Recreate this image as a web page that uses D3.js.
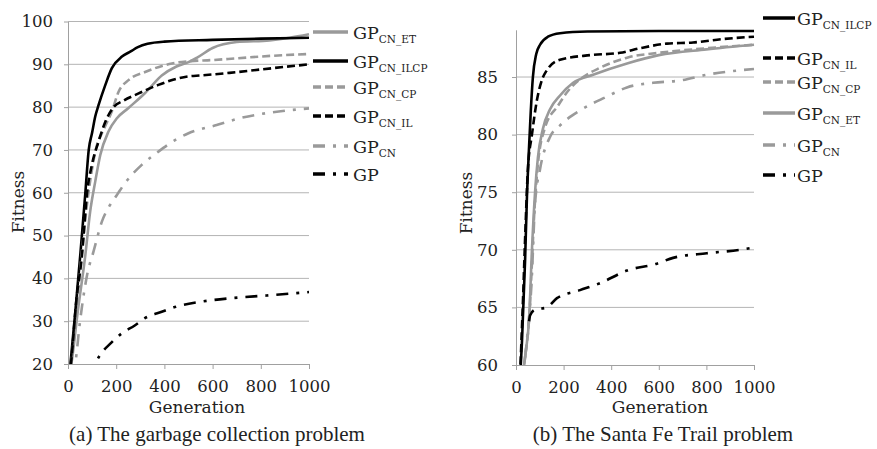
<!DOCTYPE html>
<html>
<head>
<meta charset="utf-8">
<script src="https://cdn.jsdelivr.net/npm/d3@7"></script>
<style>
  body { margin: 0; background: #fff; }
  svg { display: block; }
  text { font-family: "DejaVu Serif", serif; fill: #222; }
</style>
</head>
<body>
<svg id="chart" width="877" height="449"></svg>
<script>
// ---- (a) garbage collection problem: [generation, fitness] ----
const gcEt   = [[5,17],[14,20],[40,32],[72,45.5],[92,55.6],[113,62.6],[134,68.8],[168,74.3],[203,77.4],[251,79.8],[320,83.3],[389,87.4],[450,89.5],[500,90.5],[534,91.5],[600,93.8],[700,95.2],[836,95.6],[920,96.2],[1000,97]];
const gcIlcp = [[5,17],[10,20],[30,32],[51,45.5],[72,60],[86,70],[100,74],[113,77.8],[127,80.5],[155,85.2],[182,89.1],[224,91.8],[260,93],[290,94],[330,94.8],[400,95.3],[600,95.7],[800,96],[1000,96.2]];
const gcCp   = [[5,17],[12,20],[40,36],[85,60],[115,70],[150,75],[182,79],[210,83.6],[251,86.3],[320,88.2],[431,90.2],[500,90.7],[600,91],[700,91.4],[850,92],[1000,92.4]];
const gcIl   = [[5,17],[12,20],[35,35],[58,45.5],[79,60],[99,66.5],[127,72],[155,76.6],[189,80],[230,81.5],[293,83.2],[375,85.2],[500,87.2],[550,87.4],[670,88],[800,88.8],[1000,90]];
const gcCn   = [[20,17],[30,20],[50,30],[80,41],[106,46.3],[141,53.3],[175,57.2],[203,59.5],[237,62.3],[306,66.5],[375,69.6],[444,72.3],[500,73.9],[617,75.8],[712,77.4],[824,78.6],[1000,79.7]];
const gcGp   = [[90,17],[112,20],[132,22],[180,25],[224,27.2],[277,29],[319,30.7],[389,32.2],[443,33.3],[546,34.5],[683,35.4],[824,36],[1000,36.8]];

// ---- (b) Santa Fe Trail problem ----
const sfIlcp = [[15,58],[25,62],[38,69],[46,74.6],[55,79],[62,82],[71,85],[85,87],[101,87.8],[134,88.5],[185,88.8],[300,88.95],[600,89],[1000,89]];
const sfIl   = [[15,58],[30,66],[40,72],[50,77],[67,80],[88,83],[110,84.8],[130,85.6],[185,86.5],[311,86.9],[437,87.1],[521,87.5],[634,87.9],[744,88],[870,88.3],[1000,88.5]];
const sfCp   = [[20,58],[40,61],[55,64],[65,68],[75,72.5],[90,77],[120,80.5],[176,82.5],[227,84],[282,85],[353,85.8],[470,86.7],[600,87.1],[800,87.5],[1000,87.8]];
const sfEt   = [[20,58],[40,61],[55,64],[67,70],[80,75],[92,78],[113,80.5],[143,82.2],[185,83.4],[240,84.5],[324,85.2],[470,86.2],[600,86.9],[800,87.4],[1000,87.8]];
const sfCn   = [[25,58],[45,62],[65,67],[80,74],[101,77],[143,79.8],[185,80.8],[269,82.1],[382,83.3],[466,84.1],[576,84.5],[689,84.7],[802,85.2],[1000,85.7]];
const sfGp   = [[55,63.8],[59,64.3],[80,64.8],[130,65],[172,65.8],[269,66.5],[353,67.1],[466,68.2],[592,68.8],[660,69.3],[802,69.7],[941,70],[1000,70.2]];

const genTicks = [0, 200, 400, 600, 800, 1000];
const gcFitTicks = [20, 30, 40, 50, 60, 70, 80, 90, 100];
const sfFitTicks = [60, 65, 70, 75, 80, 85];

// series look (label sub-script, colour, dash)
const GRAY = "#9a9a9a";
const looks = {
  et:   { sub: "CN_ET",   color: GRAY,   dash: null },
  ilcp: { sub: "CN_ILCP", color: "#000", dash: null },
  cp:   { sub: "CN_CP",   color: GRAY,   dash: "8,4" },
  il:   { sub: "CN_IL",   color: "#000", dash: "8,4" },
  cn:   { sub: "CN",      color: GRAY,   dash: "12,8,3,8" },
  gp:   { sub: "",        color: "#000", dash: "12,8,3,8" }
};

const svg = d3.select("#chart");

function drawPanel(p) {
  const x = d3.scaleLinear().domain([0, 1000]).range([p.left, p.right]);
  const y = d3.scaleLinear().domain(p.yDomain).range([p.bottom, p.top]);
  const g = svg.append("g");

  // grid lines
  g.append("g").selectAll("line")
    .data(p.yTicks.filter(t => t !== p.yDomain[0]))
    .join("line")
    .attr("x1", p.left).attr("x2", p.right)
    .attr("y1", d => y(d)).attr("y2", d => y(d))
    .attr("stroke", "#b4b4b4").attr("stroke-width", 1);

  // axes
  const ya = g.append("g").attr("transform", `translate(${p.left},0)`)
    .call(d3.axisLeft(y).tickValues(p.yTicks).tickSize(4).tickSizeOuter(0).tickPadding(p.yPad));
  const xa = g.append("g").attr("transform", `translate(0,${p.bottom})`)
    .call(d3.axisBottom(x).tickValues(genTicks).tickFormat(d3.format("d"))
      .tickSize(5).tickSizeOuter(0).tickPadding(11));
  [ya, xa].forEach(a => {
    a.attr("font-family", null).attr("font-size", null);
    a.select(".domain").attr("stroke", "#a0a0a0");
    a.selectAll(".tick line").attr("stroke", "#a0a0a0");
    a.selectAll(".tick text").attr("font-size", 16.5).attr("fill", "#222");
  });

  // clip to plot area
  const clipId = "clip" + p.id;
  svg.append("clipPath").attr("id", clipId)
    .append("rect").attr("x", p.left).attr("y", p.top - 6)
    .attr("width", p.right - p.left + 4).attr("height", p.bottom - p.top + 6);

  const line = d3.line().x(d => x(d[0])).y(d => y(d[1])).curve(d3.curveMonotoneX);
  const lines = g.append("g").attr("clip-path", `url(#${clipId})`);
  p.series.forEach(s => {
    const lk = looks[s.key];
    lines.append("path")
      .datum(s.data)
      .attr("d", line)
      .attr("fill", "none")
      .attr("stroke", lk.color)
      .attr("stroke-width", 2.6)
      .attr("stroke-dasharray", lk.dash);
  });

  // legend
  p.legendOrder.forEach((key, i) => {
    const lk = looks[key];
    const ly = p.legendY[i];
    g.append("line")
      .attr("x1", p.legX0).attr("x2", p.legX1)
      .attr("y1", ly).attr("y2", ly)
      .attr("stroke", lk.color).attr("stroke-width", 3.5)
      .attr("stroke-dasharray", lk.dash);
    const t = g.append("text").attr("x", p.legText).attr("y", ly + 7).attr("font-size", 17.5);
    t.append("tspan").text("GP");
    if (lk.sub) t.append("tspan").attr("dy", 4).attr("font-size", 10.5).text(lk.sub);
  });

  // axis titles and caption
  g.append("text").attr("x", p.genX).attr("y", 413)
    .attr("text-anchor", "middle").attr("font-size", 17).text("Generation");
  g.append("text")
    .attr("transform", `translate(${p.fitX},${p.fitY}) rotate(-90)`)
    .attr("text-anchor", "middle").attr("font-size", 17).text("Fitness");
  g.append("text").attr("x", p.capX).attr("y", 441)
    .attr("text-anchor", "middle").attr("font-size", 21)
    .style("font-family", "'Liberation Serif', serif").text(p.caption);
}

drawPanel({
  id: "a", left: 68, right: 309, top: 21.5, bottom: 364,
  yDomain: [20, 100], yTicks: gcFitTicks, yPad: 11,
  series: [
    { key: "et", data: gcEt }, { key: "ilcp", data: gcIlcp }, { key: "cp", data: gcCp },
    { key: "il", data: gcIl }, { key: "cn", data: gcCn }, { key: "gp", data: gcGp }
  ],
  legendOrder: ["et", "ilcp", "cp", "il", "cn", "gp"],
  legendY: [32, 61, 87, 116, 146, 174],
  legX0: 313, legX1: 348, legText: 353,
  genX: 197, fitX: 24, fitY: 202, capX: 217,
  caption: "(a) The garbage collection problem"
});

drawPanel({
  id: "b", left: 516, right: 754, top: 29.8, bottom: 365,
  yDomain: [60, 89.1], yTicks: sfFitTicks, yPad: 14,
  series: [
    { key: "ilcp", data: sfIlcp }, { key: "il", data: sfIl }, { key: "cp", data: sfCp },
    { key: "et", data: sfEt }, { key: "cn", data: sfCn }, { key: "gp", data: sfGp }
  ],
  legendOrder: ["ilcp", "il", "cp", "et", "cn", "gp"],
  legendY: [18, 58, 82, 113, 145, 175],
  legX0: 763, legX1: 795, legText: 797,
  genX: 660, fitX: 472, fitY: 203, capX: 663,
  caption: "(b) The Santa Fe Trail problem"
});
</script>
</body>
</html>
